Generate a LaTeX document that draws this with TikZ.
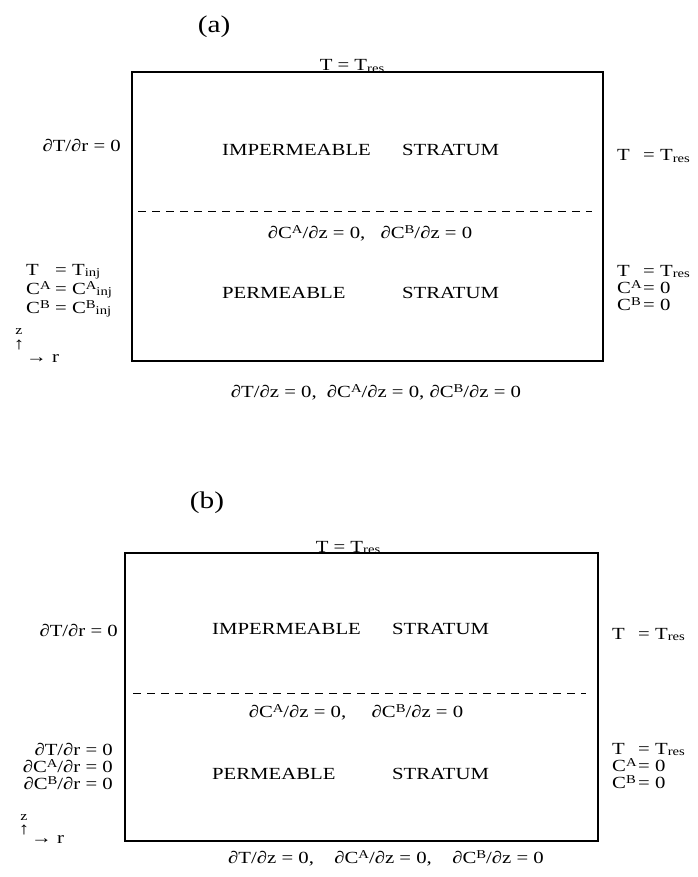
\documentclass[tikz,border=0pt]{standalone}
\usepackage{fontspec}
\setmainfont{Liberation Serif}[FakeStretch=1.22]
\newcommand\supx[1]{\raisebox{0.62ex}{\fontsize{12}{12}\selectfont #1}}
\newcommand\subx[1]{\raisebox{-0.2ex}{\fontsize{12}{12}\selectfont #1}}
\begin{document}
\begin{tikzpicture}[x=1pt,y=-1pt,
  lbl/.style={font=\fontsize{17}{17}\selectfont, inner sep=0pt},
  tag/.style={font=\fontsize{24}{24}\selectfont, inner sep=0pt},
  small/.style={font=\fontsize{13}{13}\selectfont, inner sep=0pt},
  boxline/.style={line width=1.2pt},
  dashline/.style={line width=1pt, dash pattern=on 8pt off 6pt}]
\useasboundingbox (0,0) rectangle (697,877);

% ---------------- (a) ----------------
\node[tag] (la) at (214,27) {(a)};
\draw[boxline] (132,72) rectangle (603,361);
\draw[dashline] (138,212) -- (592,212);
\node[lbl, anchor=base] (atop) at (352,71) {T = T\subx{res}};
\node[lbl, anchor=base east] (aleft) at (121,152) {∂T/∂r = 0};
\node[lbl, anchor=base west] (aimp) at (222,156) {IMPERMEABLE};
\node[lbl, anchor=base west] (aimps) at (402,156) {STRATUM};
\node[lbl, anchor=base west] (aright) at (617,161) {T};
\node[lbl, anchor=base west] (arightr) at (643,161) {= T\subx{res}};
\node[lbl, anchor=base] (amid) at (370,238) {∂C\supx{A}/∂z = 0,\hspace{0.9em}∂C\supx{B}/∂z = 0};
\node[lbl, anchor=base west] (aperm) at (222,298) {PERMEABLE};
\node[lbl, anchor=base west] (aperms) at (402,298) {STRATUM};
% left block
\node[lbl, anchor=base west] (al1) at (26,275) {T};
\node[lbl, anchor=base west] (al1r) at (55,275) {= T\subx{inj}};
\node[lbl, anchor=base west] (al2) at (26,294) {C\supx{A}};
\node[lbl, anchor=base west] (al2r) at (55,294) {= C\supx{A}\subx{inj}};
\node[lbl, anchor=base west] (al3) at (26,313) {C\supx{B}};
\node[lbl, anchor=base west] (al3r) at (55,313) {= C\supx{B}\subx{inj}};
% right block
\node[lbl, anchor=base west] (ar1) at (617,276) {T};
\node[lbl, anchor=base west] (ar1r) at (643,276) {= T\subx{res}};
\node[lbl, anchor=base west] (ar2) at (617,293) {C\supx{A}};
\node[lbl, anchor=base west] (ar2r) at (643,293) {= 0};
\node[lbl, anchor=base west] (ar3) at (617,310) {C\supx{B}};
\node[lbl, anchor=base west] (ar3r) at (643,310) {= 0};
% axes
\node[small, anchor=base] (az) at (19,334) {z};
\node[lbl, anchor=center] (aup) at (19,345) {↑};
\node[lbl, anchor=base west] (arr) at (26,362) {→ r};
% bottom
\node[lbl, anchor=base] (abot) at (376,397) {∂T/∂z = 0,\hspace{0.6em}∂C\supx{A}/∂z = 0,\hspace{0.3em}∂C\supx{B}/∂z = 0};

% ---------------- (b) ----------------
\node[tag] (lb) at (207,503) {(b)};
\draw[boxline] (125,553) rectangle (598,841);
\draw[dashline] (133,693) -- (586,693);
\node[lbl, anchor=base] (btop) at (348,552) {T = T\subx{res}};
\node[lbl, anchor=base east] (bleft) at (118,636) {∂T/∂r = 0};
\node[lbl, anchor=base west] (bimp) at (212,634) {IMPERMEABLE};
\node[lbl, anchor=base west] (bimps) at (392,634) {STRATUM};
\node[lbl, anchor=base west] (bright) at (612,639) {T};
\node[lbl, anchor=base west] (brightr) at (638,639) {= T\subx{res}};
\node[lbl, anchor=base] (bmid) at (356,717) {∂C\supx{A}/∂z = 0,\hspace{1.5em}∂C\supx{B}/∂z = 0};
\node[lbl, anchor=base west] (bperm) at (212,779) {PERMEABLE};
\node[lbl, anchor=base west] (bperms) at (392,779) {STRATUM};
% left block
\node[lbl, anchor=base east] (bl1) at (113,755) {∂T/∂r = 0};
\node[lbl, anchor=base east] (bl2) at (113,772) {∂C\supx{A}/∂r = 0};
\node[lbl, anchor=base east] (bl3) at (113,789) {∂C\supx{B}/∂r = 0};
% right block
\node[lbl, anchor=base west] (br1) at (612,754) {T};
\node[lbl, anchor=base west] (br1r) at (638,754) {= T\subx{res}};
\node[lbl, anchor=base west] (br2) at (612,771) {C\supx{A}};
\node[lbl, anchor=base west] (br2r) at (638,771) {= 0};
\node[lbl, anchor=base west] (br3) at (612,788) {C\supx{B}};
\node[lbl, anchor=base west] (br3r) at (638,788) {= 0};
% axes
\node[small, anchor=base] (bz) at (24,820) {z};
\node[lbl, anchor=center] (bup) at (24,830) {↑};
\node[lbl, anchor=base west] (brr) at (31,843) {→ r};
% bottom
\node[lbl, anchor=base] (bbot) at (386,863) {∂T/∂z = 0,\hspace{1.2em}∂C\supx{A}/∂z = 0,\hspace{1.2em}∂C\supx{B}/∂z = 0};
\end{tikzpicture}
\end{document}
